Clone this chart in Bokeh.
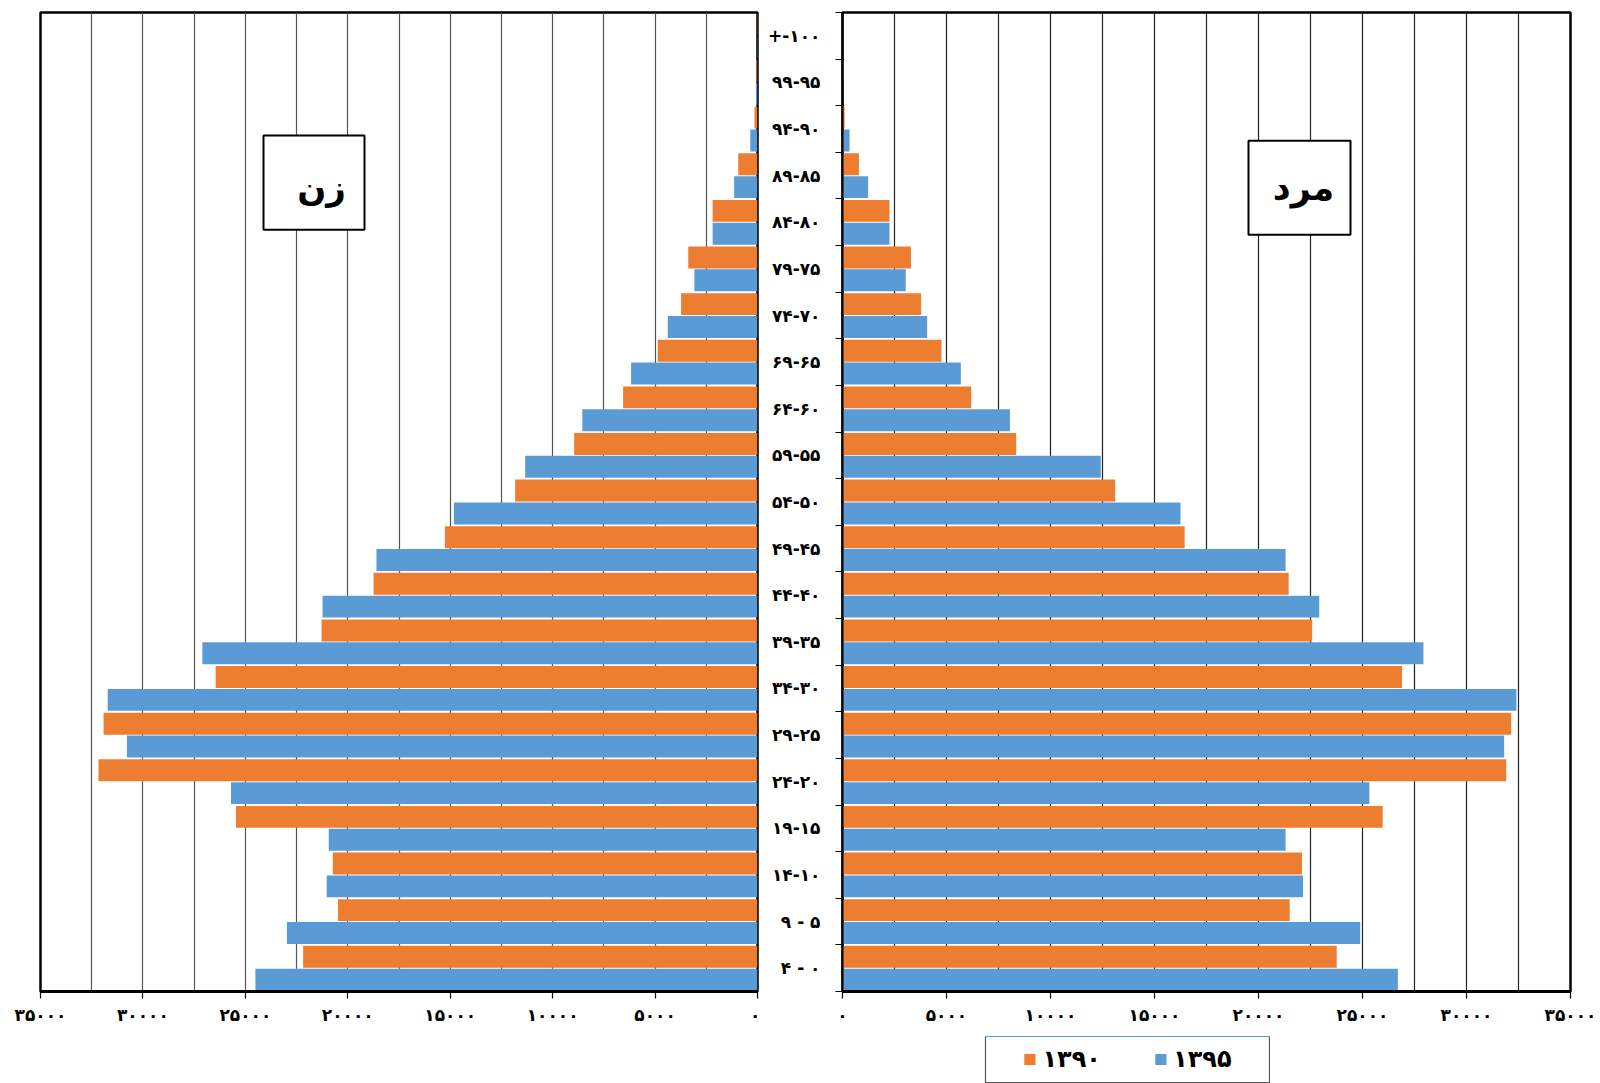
from bokeh.plotting import figure
from bokeh.models import (Range1d, FixedTicker, Legend, LegendItem, BoxAnnotation, Label,
                          ColumnDataSource, Spacer)
from bokeh.layouts import row, column
from bokeh.embed import file_html
from bokeh.resources import INLINE

# ---------------- data ----------------
age_groups = ["۴ - ۰", "۹ - ۵", "۱۴-۱۰", "۱۹-۱۵", "۲۴-۲۰", "۲۹-۲۵", "۳۴-۳۰",
              "۳۹-۳۵", "۴۴-۴۰", "۴۹-۴۵", "۵۴-۵۰", "۵۹-۵۵", "۶۴-۶۰", "۶۹-۶۵",
              "۷۴-۷۰", "۷۹-۷۵", "۸۴-۸۰", "۸۹-۸۵", "۹۴-۹۰", "۹۹-۹۵", "+-۱۰۰"]

female_1390 = [22180, 20480, 20730, 25460, 32170, 31920, 26450, 21280, 18740, 15260,
               11830, 8950, 6560, 4870, 3730, 3380, 2190, 940, 150, 50, 25]
female_1395 = [24510, 22970, 21030, 20930, 25700, 30780, 31720, 27100, 21230, 18600,
               14820, 11340, 8550, 6170, 4380, 3080, 2190, 1140, 350, 75, 25]
male_1390 = [23760, 21500, 22090, 25970, 31910, 32150, 26900, 22580, 21450, 16450,
             13110, 8350, 6190, 4760, 3780, 3290, 2260, 790, 100, 50, 0]
male_1395 = [26700, 24890, 22140, 21300, 25330, 31810, 32400, 27930, 22920, 21300,
             16250, 12420, 8050, 5690, 4070, 3040, 2260, 1230, 340, 25, 0]

series_labels = ["۱۳۹۰", "۱۳۹۵"]
panel_titles = ["زن", "مرد"]
x_ticks = [0, 5000, 10000, 15000, 20000, 25000, 30000, 35000]
x_tick_labels = ["۰", "۵۰۰۰", "۱۰۰۰۰", "۱۵۰۰۰", "۲۰۰۰۰", "۲۵۰۰۰", "۳۰۰۰۰", "۳۵۰۰۰"]
grid_ticks = list(range(0, 35001, 2500))

ORANGE = "#ED7D31"
BLUE = "#5B9BD5"
FONT = "DejaVu Sans"

n = len(age_groups)
y_orange = [i + 0.745 for i in range(n)]
y_blue = [i + 0.255 for i in range(n)]
BAR_H = 0.47

TOP = 12
BOTTOM = 44
FRAME_H = 979


def style_common(p, grid_color):
    p.outline_line_color = "black"
    p.outline_line_width = 2.5
    p.background_fill_color = "white"
    p.border_fill_color = "white"
    p.ygrid.grid_line_color = None
    p.xgrid.ticker = FixedTicker(ticks=grid_ticks)
    p.xgrid.grid_line_color = grid_color
    p.xgrid.grid_line_width = 1.2
    xa = p.xaxis[0]
    xa.ticker = FixedTicker(ticks=x_ticks)
    xa.major_label_overrides = dict(zip(x_ticks, x_tick_labels))
    xa.axis_line_color = "black"
    xa.axis_line_width = 3
    xa.major_tick_line_color = "black"
    xa.major_tick_line_width = 1.2
    xa.major_tick_out = 7
    xa.major_tick_in = 0
    xa.minor_tick_line_color = None
    xa.major_label_standoff = 6
    xa.major_label_text_font = FONT
    xa.major_label_text_font_style = "bold"
    xa.major_label_text_font_size = "17px"
    xa.major_label_text_color = "black"


# ---------------- left (women) ----------------
src_f = ColumnDataSource(dict(yo=y_orange, yb=y_blue, v90=female_1390, v95=female_1395))
p1 = figure(frame_width=717, frame_height=FRAME_H, x_range=Range1d(35000, 0), y_range=Range1d(0, n),
            output_backend="svg", toolbar_location=None, y_axis_location=None,
            min_border_left=40, min_border_right=3, min_border_top=TOP, min_border_bottom=BOTTOM)
style_common(p1, "#555555")
p1.hbar(y="yo", left=0, right="v90", height=BAR_H, color=ORANGE, line_color=None, source=src_f)
p1.hbar(y="yb", left=0, right="v95", height=BAR_H, color=BLUE, line_color=None, source=src_f)
p1.add_layout(BoxAnnotation(left=19184, right=24114, bottom=16.34, top=18.36,
                            fill_color="white", fill_alpha=1.0, line_color="black",
                            line_alpha=1.0, line_width=2))
p1.add_layout(Label(x=21283, y=17.24, text=panel_titles[0], text_font=FONT, text_font_style="bold",
                    text_font_size="34px", text_align="center", text_baseline="middle",
                    text_color="black"))

# ---------------- right (men) ----------------
src_m = ColumnDataSource(dict(yo=y_orange, yb=y_blue, v90=male_1390, v95=male_1395))
p2 = figure(frame_width=728, frame_height=FRAME_H, x_range=Range1d(0, 35000), y_range=Range1d(0, n),
            output_backend="svg", toolbar_location=None,
            min_border_left=82, min_border_right=30, min_border_top=TOP, min_border_bottom=BOTTOM)
style_common(p2, "#222222")
p2.hbar(y="yo", left=0, right="v90", height=BAR_H, color=ORANGE, line_color=None, source=src_m)
p2.hbar(y="yb", left=0, right="v95", height=BAR_H, color=BLUE, line_color=None, source=src_m)

ya = p2.yaxis[0]
centers = [i + 0.5 for i in range(n)]
ya.ticker = FixedTicker(ticks=centers, minor_ticks=list(range(n + 1)))
ya.major_label_overrides = dict(zip(centers, age_groups))
ya.major_tick_line_color = None
ya.major_tick_out = 0
ya.major_tick_in = 0
ya.minor_tick_line_color = "black"
ya.minor_tick_line_width = 1.2
ya.minor_tick_out = 7
ya.minor_tick_in = 0
ya.axis_line_color = "black"
ya.axis_line_width = 2
ya.major_label_standoff = 15
ya.major_label_text_font = FONT
ya.major_label_text_font_style = "bold"
ya.major_label_text_font_size = "17px"
ya.major_label_text_color = "black"

p2.add_layout(BoxAnnotation(left=19519, right=24423, bottom=16.23, top=18.25,
                            fill_color="white", fill_alpha=1.0, line_color="black",
                            line_alpha=1.0, line_width=2))
p2.add_layout(Label(x=22163, y=17.24, text=panel_titles[1], text_font=FONT, text_font_style="bold",
                    text_font_size="35px", text_align="center", text_baseline="middle",
                    text_color="black"))

# ---------------- legend (separate small figure; its bars lie outside its view) ----------------
p3 = figure(width=286, height=48, x_range=Range1d(0, 1), y_range=Range1d(-10, -9),
            output_backend="svg", toolbar_location=None, x_axis_location=None, y_axis_location=None,
            min_border_left=1, min_border_right=1, min_border_top=1, min_border_bottom=1)
p3.grid.visible = False
p3.outline_line_color = "#555555"
p3.outline_line_width = 1.2
p3.background_fill_color = "white"
p3.border_fill_color = "white"
l90 = p3.hbar(y="yo", left=0, right="v90", height=BAR_H, color=ORANGE, line_color=None, source=src_m)
l95 = p3.hbar(y="yb", left=0, right="v95", height=BAR_H, color=BLUE, line_color=None, source=src_m)
legend = Legend(items=[LegendItem(label=series_labels[0], renderers=[l90], index=0),
                       LegendItem(label=series_labels[1], renderers=[l95], index=0)],
                orientation="horizontal", location="center", margin=0,
                label_text_font=FONT, label_text_font_style="bold", label_text_font_size="24px",
                label_text_color="black", glyph_width=14, glyph_height=14, label_standoff=6,
                label_width=46, spacing=52, padding=4, label_height=26,
                border_line_color=None, background_fill_alpha=0.0)
p3.add_layout(legend)

layout = column(row(p1, p2), row(Spacer(width=984, height=48), p3))
open("out.html", "w").write(file_html(layout, INLINE))
